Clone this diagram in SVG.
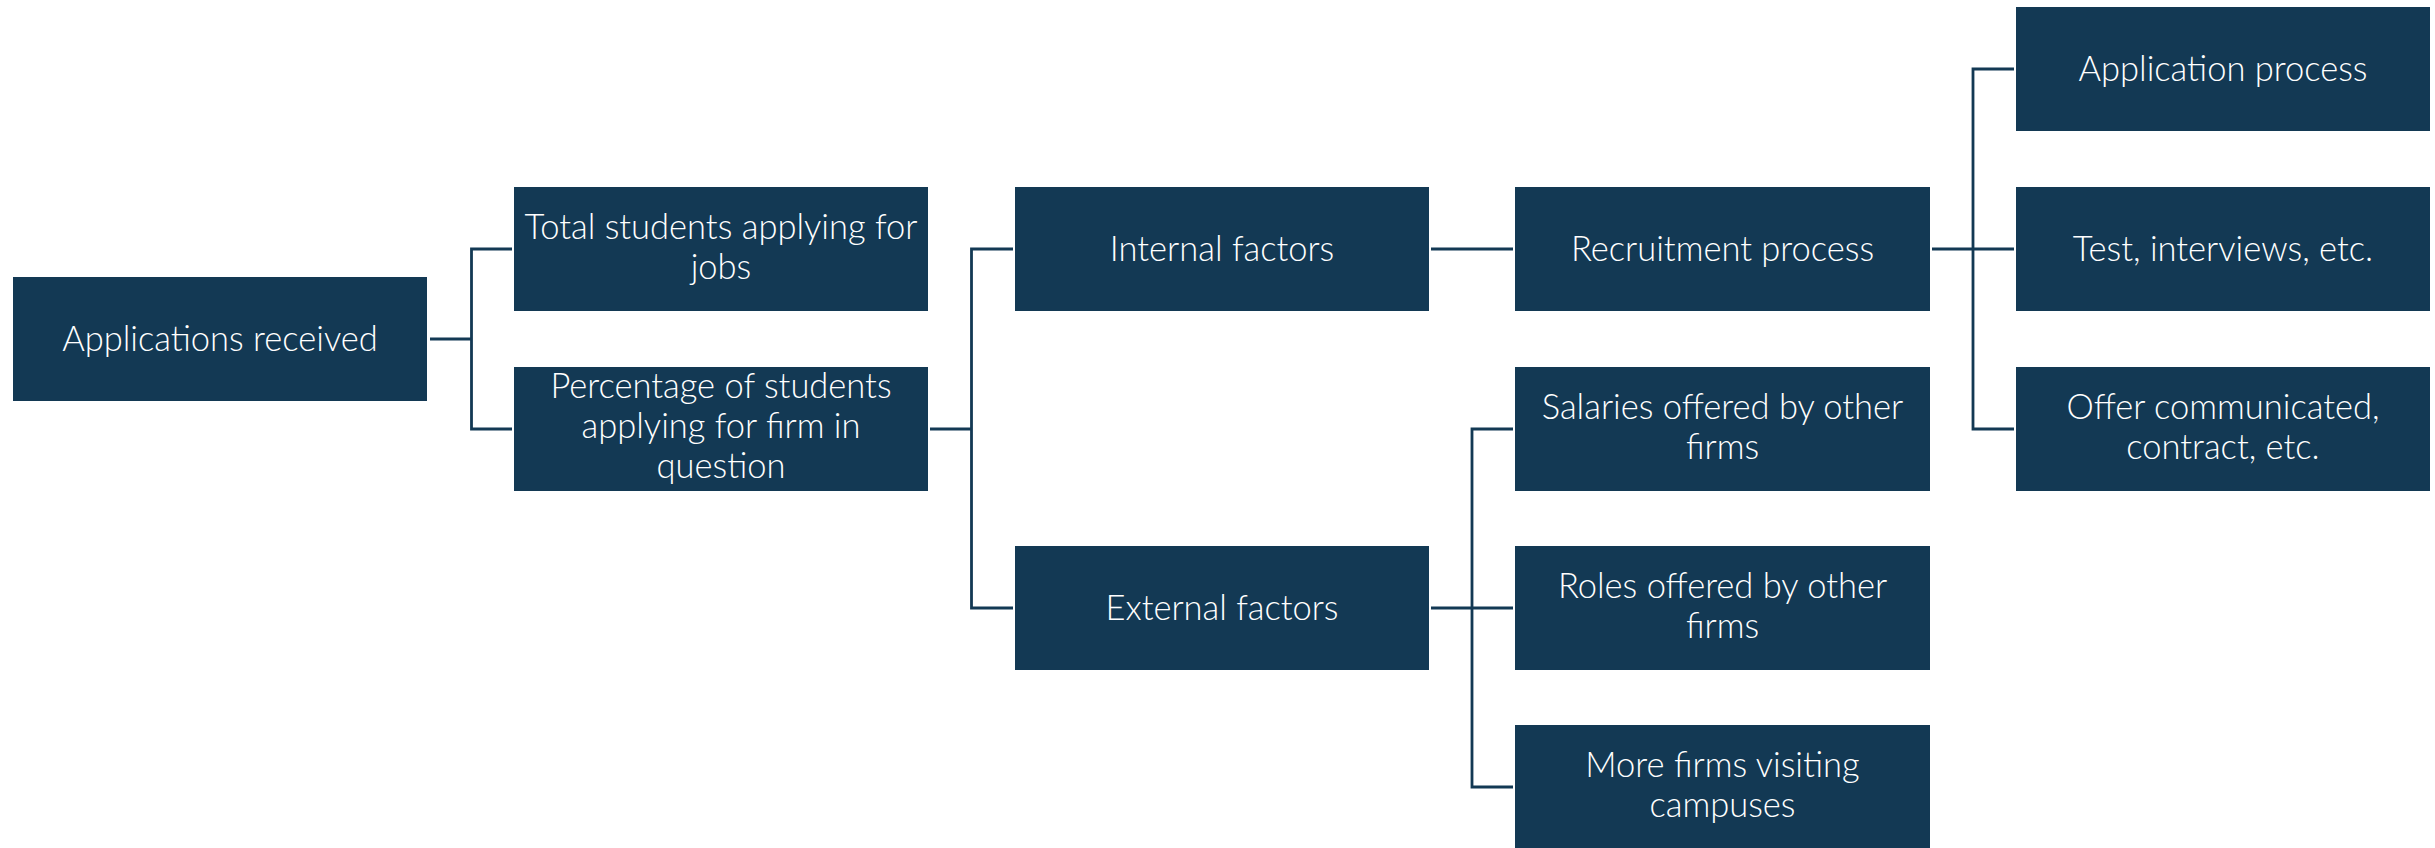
<svg xmlns="http://www.w3.org/2000/svg" width="2435" height="848" viewBox="0 0 2435 848">
<style>
.box{fill:#133954;}
.t{fill:#ffffff;font-family:Lato,"Open Sans",sans-serif;font-size:34.5px;font-weight:300;text-anchor:middle;}
.c{fill:none;stroke:#133954;stroke-width:2.8;}
</style>
<rect width="2435" height="848" fill="#ffffff"/>
<g id="connectors">
<path class="c" d="M430,339 H471.5 M512,249 H471.5 V429 H512"/>
<path class="c" d="M930,429 H971.5 M1013,249 H971.5 V608 H1013"/>
<path class="c" d="M1431,249 H1513"/>
<path class="c" d="M1431,608 H1513 M1513,429 H1472 V787 H1513"/>
<path class="c" d="M1932,249 H2014 M2014,69 H1973 V429 H2014"/>
</g>
<g id="n1"><rect class="box" x="13" y="277" width="414" height="124"/><text class="t" x="220" y="351">Applications received</text></g>
<g id="n2"><rect class="box" x="514" y="187" width="414" height="124"/><text class="t" x="721" y="239">Total students applying for</text><text class="t" x="721" y="279">jobs</text></g>
<g id="n3"><rect class="box" x="514" y="367" width="414" height="124"/><text class="t" x="721" y="398">Percentage of students</text><text class="t" x="721" y="438">applying for firm in</text><text class="t" x="721" y="478">question</text></g>
<g id="n4"><rect class="box" x="1015" y="187" width="414" height="124"/><text class="t" x="1222" y="261">Internal factors</text></g>
<g id="n5"><rect class="box" x="1015" y="546" width="414" height="124"/><text class="t" x="1222" y="620">External factors</text></g>
<g id="n6"><rect class="box" x="1515" y="187" width="415" height="124"/><text class="t" x="1722.5" y="261">Recruitment process</text></g>
<g id="n7"><rect class="box" x="1515" y="367" width="415" height="124"/><text class="t" x="1722.5" y="419">Salaries offered by other</text><text class="t" x="1722.5" y="459">firms</text></g>
<g id="n8"><rect class="box" x="1515" y="546" width="415" height="124"/><text class="t" x="1722.5" y="598">Roles offered by other</text><text class="t" x="1722.5" y="638">firms</text></g>
<g id="n9"><rect class="box" x="1515" y="725" width="415" height="124"/><text class="t" x="1722.5" y="777">More firms visiting</text><text class="t" x="1722.5" y="817">campuses</text></g>
<g id="n10"><rect class="box" x="2016" y="7" width="414" height="124"/><text class="t" x="2223" y="81">Application process</text></g>
<g id="n11"><rect class="box" x="2016" y="187" width="414" height="124"/><text class="t" x="2223" y="261">Test, interviews, etc.</text></g>
<g id="n12"><rect class="box" x="2016" y="367" width="414" height="124"/><text class="t" x="2223" y="419">Offer communicated,</text><text class="t" x="2223" y="459">contract, etc.</text></g>
</svg>
